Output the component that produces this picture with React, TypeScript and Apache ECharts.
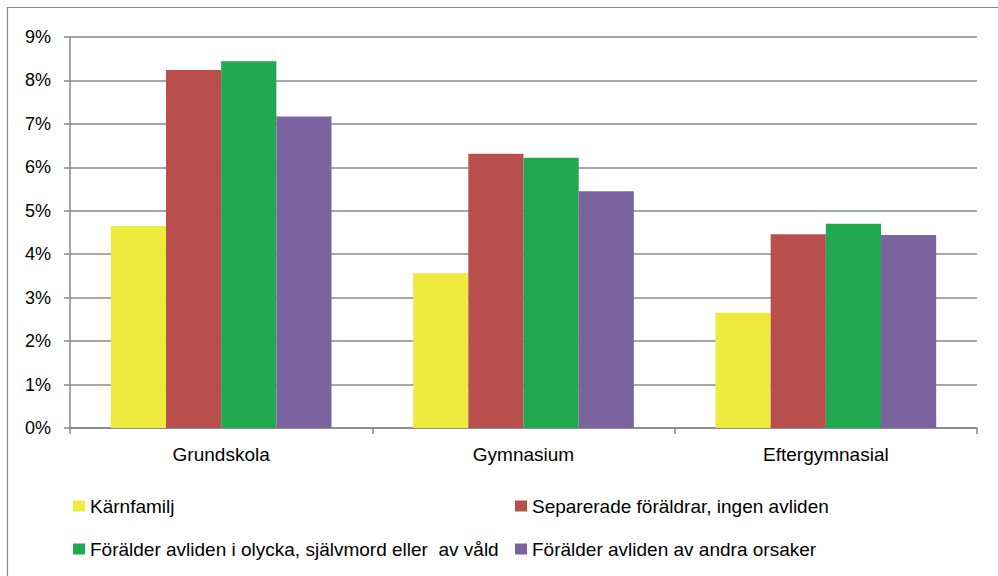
import React, { useEffect, useRef } from "react";
import * as echarts from "echarts";

const categories = ["Grundskola", "Gymnasium", "Eftergymnasial"];
const seriesNames = [
  "Kärnfamilj",
  "Separerade föräldrar, ingen avliden",
  "Förälder avliden i olycka, självmord eller  av våld",
  "Förälder avliden av andra orsaker",
];
const karnfamilj = [4.65, 3.56, 2.65];
const separerade = [8.24, 6.31, 4.46];
const olycka = [8.44, 6.22, 4.7];
const andra = [7.17, 5.45, 4.44];
const seriesValues = [karnfamilj, separerade, olycka, andra];
const colors = ["#EEEA3E", "#B84F4D", "#23A852", "#7B63A0"];

const FONT = "'Liberation Sans', Arial, sans-serif";

export default function App() {
  const ref = useRef<HTMLDivElement>(null);
  useEffect(() => {
    if (!ref.current) return;
    const chart = echarts.init(ref.current, null, { renderer: "svg" });
    const legendCommon = {
      orient: "vertical" as const,
      top: 495,
      padding: 0,
      itemWidth: 12,
      itemHeight: 11,
      itemGap: 21,
      icon: "rect",
      selectedMode: false,
      textStyle: { fontFamily: FONT, fontSize: 19, color: "#000", lineHeight: 22 },
    };
    chart.setOption({
      animation: false,
      backgroundColor: "#fff",
      textStyle: { fontFamily: FONT },
      graphic: [
        {
          type: "rect",
          shape: { x: 7.5, y: 7.5, width: 1000, height: 600 },
          style: { fill: "none", stroke: "#888", lineWidth: 1.2 },
          silent: true,
        },
      ],
      legend: [
        { ...legendCommon, left: 73, data: [seriesNames[0], seriesNames[2]] },
        { ...legendCommon, left: 515, data: [seriesNames[1], seriesNames[3]] },
      ],
      grid: { left: 70, top: 37, width: 907, height: 391, containLabel: false },
      xAxis: {
        type: "category",
        data: categories,
        axisLine: { lineStyle: { color: "#878787", width: 1.5 } },
        axisTick: { show: true, length: 6, lineStyle: { color: "#878787", width: 1.5 } },
        axisLabel: { fontFamily: FONT, fontSize: 19, color: "#000", margin: 17 },
      },
      yAxis: {
        type: "value",
        min: 0,
        max: 9,
        interval: 1,
        axisLine: { show: true, lineStyle: { color: "#878787", width: 1.5 } },
        axisTick: { show: true, length: 6, lineStyle: { color: "#878787", width: 1.5 } },
        axisLabel: {
          fontFamily: FONT,
          fontSize: 18,
          color: "#000",
          margin: 19,
          formatter: "{value}%",
        },
        splitLine: { lineStyle: { color: "#8a8a8a", width: 1.5 } },
      },
      series: seriesNames.map((name, i) => ({
        name,
        type: "bar",
        data: seriesValues[i],
        barGap: "0%",
        barCategoryGap: "27%",
        itemStyle: { color: colors[i] },
      })),
    });
    return () => chart.dispose();
  }, []);
  return (
    <div
      ref={ref}
      style={{ position: "fixed", left: 0, top: 0, width: 998, height: 576 }}
    />
  );
}
